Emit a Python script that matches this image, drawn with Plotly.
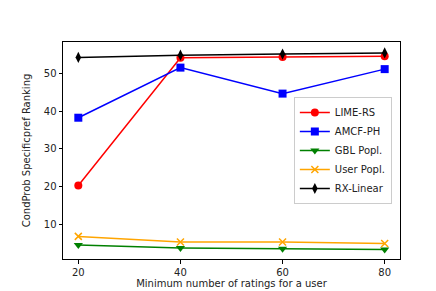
import plotly.graph_objects as go

x = [20, 40, 60, 80]
lime_rs = [20.3, 54.2, 54.4, 54.6]
amcf_ph = [38.3, 51.6, 44.7, 51.2]
gbl_popl = [4.5, 3.7, 3.5, 3.3]
user_popl = [6.8, 5.3, 5.3, 4.9]
rx_linear = [54.3, 54.9, 55.2, 55.5]

series = [
    ("LIME-RS", lime_rs, "red", "circle"),
    ("AMCF-PH", amcf_ph, "blue", "square"),
    ("GBL Popl.", gbl_popl, "green", "triangle-down"),
    ("User Popl.", user_popl, "orange", "x-thin"),
    ("RX-Linear", rx_linear, "black", "diamond-tall"),
]

fig = go.Figure()
for name, vals, color, sym in series:
    mk = dict(symbol=sym, size=8, color=color)
    if sym == "x-thin":
        mk = dict(symbol=sym, size=7, color=color, line=dict(color=color, width=1.5))
    fig.add_trace(go.Scatter(x=x, y=vals, name=name, mode="lines+markers",
                             line=dict(color=color, width=1.5), marker=mk))

ax = dict(showline=True, linecolor="black", linewidth=1, mirror=True,
          ticks="outside", ticklen=3.5, tickcolor="black", showgrid=False,
          zeroline=False, tickfont=dict(size=10, color="#222"))
fig.update_layout(
    width=436, height=291,
    margin=dict(l=54.5, r=44, t=33.5, b=32.3),
    plot_bgcolor="white", paper_bgcolor="white",
    font=dict(family="DejaVu Sans", size=10, color="#222"),
    xaxis=dict(ax, range=[17, 83], tickvals=[20, 40, 60, 80],
               title=dict(text="Minimum number of ratings for a user", font=dict(size=10), standoff=2)),
    yaxis=dict(ax, range=[0.8, 58.4], tickvals=[10, 20, 30, 40, 50],
               title=dict(text="CondProb Specificpref Ranking", font=dict(size=10), standoff=11)),
    legend=dict(x=0.685, y=0.5, xanchor="left", yanchor="middle",
                bordercolor="#ccc", borderwidth=1, bgcolor="white",
                font=dict(size=10), tracegroupgap=0, itemwidth=30),
    showlegend=True,
)
fig.write_html("out.html")
